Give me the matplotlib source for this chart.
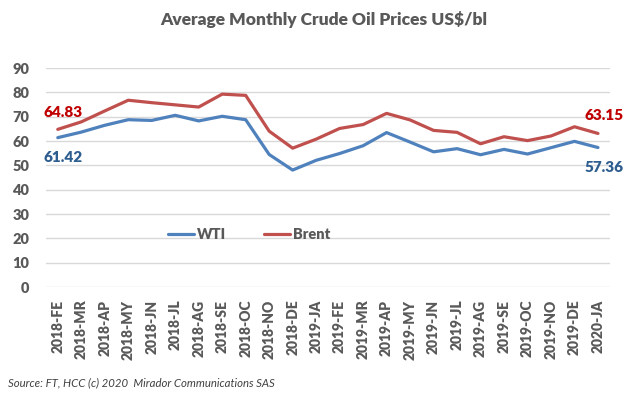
import matplotlib
matplotlib.use("Agg")
import matplotlib.pyplot as plt

# Monthly averages (US$/bl)
months = ["2018-FE", "2018-MR", "2018-AP", "2018-MY", "2018-JN", "2018-JL",
          "2018-AG", "2018-SE", "2018-OC", "2018-NO", "2018-DE", "2019-JA",
          "2019-FE", "2019-MR", "2019-AP", "2019-MY", "2019-JN", "2019-JL",
          "2019-AG", "2019-SE", "2019-OC", "2019-NO", "2019-DE", "2020-JA"]
wti = [61.42, 63.7, 66.5, 68.8, 68.5, 70.6, 68.3, 70.2, 68.8, 54.5, 48.1, 52.1,
       54.9, 58.1, 63.5, 59.6, 55.6, 56.9, 54.4, 56.6, 54.7, 57.3, 59.9, 57.36]
brent = [64.83, 67.9, 72.4, 76.8, 75.8, 74.9, 74.0, 79.3, 78.8, 64.1, 57.1, 60.8,
         65.2, 66.8, 71.4, 68.7, 64.4, 63.6, 58.9, 61.8, 60.2, 62.1, 65.9, 63.15]
y_ticks = list(range(0, 100, 10))

plt.rcParams['font.family'] = ['Lato', 'DejaVu Sans']

grey = '#595959'
blue = '#4F81BD'
red = '#C0504D'

fig = plt.figure(figsize=(6.42, 3.96), dpi=100)
ax = fig.add_axes([0.0717, 0.275, 0.878, 0.553])

x = list(range(len(months)))
ax.plot(x, wti, color=blue, lw=2.3, label='WTI', solid_capstyle='round')
ax.plot(x, brent, color=red, lw=2.3, label='Brent', solid_capstyle='round')

ax.set_xlim(-0.5, len(months) - 0.5)
ax.set_ylim(0, 90)
ax.set_yticks(y_ticks)
ax.set_xticks(x)
ax.set_xticklabels(months, rotation=90, fontsize=10, fontweight='heavy', color=grey)
for t in ax.get_yticklabels():
    t.set_fontsize(10.5)
    t.set_fontweight('heavy')
    t.set_color(grey)
ax.tick_params(axis='x', length=0, pad=9)
ax.tick_params(axis='y', length=0, pad=12)
ax.grid(axis='y', color='#D9D9D9', lw=1)
ax.set_axisbelow(True)
for s in ax.spines.values():
    s.set_visible(False)

# end labels
lab = dict(textcoords='offset points', ha='left', va='center', fontsize=11, fontweight='heavy')
ax.annotate(f"{brent[0]:.2f}", (x[0], brent[0]), xytext=(-10, 12), color='#C00000', **lab)
ax.annotate(f"{wti[0]:.2f}", (x[0], wti[0]), xytext=(-10, -14.6), color='#2E5D8F', **lab)
ax.annotate(f"{brent[-1]:.2f}", (x[-1], brent[-1]), xytext=(-9.8, 12.6), color='#C00000', **lab)
ax.annotate(f"{wti[-1]:.2f}", (x[-1], wti[-1]), xytext=(-9.8, -14.7), color='#2E5D8F', **lab)

leg = ax.legend(loc='lower left', bbox_to_anchor=(0.193, 0.15), ncol=2, frameon=False,
                handlelength=1.8, columnspacing=2.6, handletextpad=0.2,
                prop={'weight': 'heavy', 'size': 10.5})
for t in leg.get_texts():
    t.set_color(grey)

fig.text(0.505, 0.95, "Average Monthly Crude Oil Prices US$/bl", ha='center', va='center',
         fontsize=12.5, fontweight='heavy', color=grey)
fig.text(0.012, 0.033, "Source: FT, HCC (c) 2020  Mirador Communications SAS", ha='left',
         va='center', fontsize=8.2, style='italic', color='#404040')

fig.savefig('out.png', dpi=100)
